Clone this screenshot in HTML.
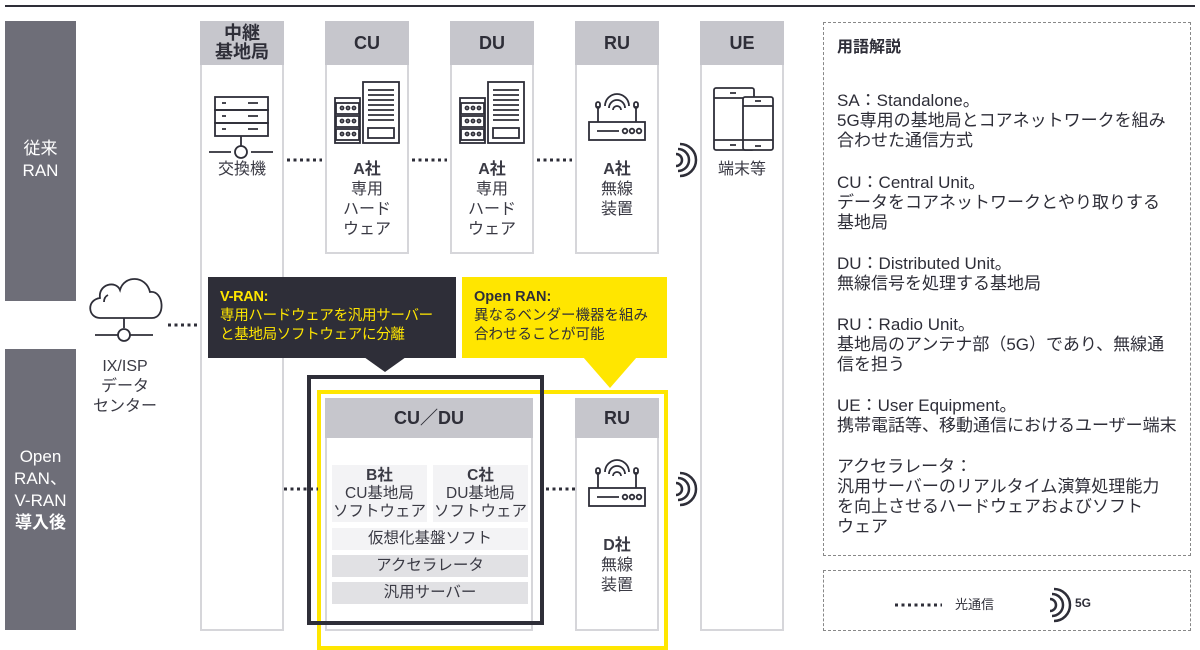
<!DOCTYPE html>
<html><head><meta charset="utf-8"><style>
*{margin:0;padding:0;box-sizing:border-box}
body{width:1200px;height:636px;background:#fff;position:relative;overflow:hidden;font-family:"Liberation Sans","Noto Sans CJK JP",sans-serif;color:#2e2e38}
.a{position:absolute}
.col{position:absolute;border:2px solid #d6d6da;background:#fff}
.hd{position:absolute;left:-2px;right:-2px;top:-2px;background:#c6c6cc;font-weight:bold;font-size:18px;text-align:center;color:#2e2e38}
.side{position:absolute;left:5px;width:71px;background:#6e6e78;color:#fff;font-size:17px;text-align:center;line-height:22px}
.lbl{position:absolute;text-align:center;font-size:16px;line-height:20px;color:#3a3a44}
.gl{position:absolute;left:837px;font-size:17px;line-height:20px;color:#2e2e38;white-space:nowrap}
.sb{position:absolute;text-align:center;font-size:15.5px;line-height:18px;color:#3a3a44}
</style></head><body>
<div class="a" style="left:5px;top:5px;width:1190px;height:2px;background:#2e2e38"></div>
<div class="side" style="top:21px;height:280px;padding-top:117px">従来<br>RAN</div>
<div class="side" style="top:349px;height:281px;padding-top:97px;font-weight:normal">Open<br>RAN、<br>V-RAN<br><b>導入後</b></div>

<div class="col" style="left:200px;top:21px;width:84px;height:610px"><div class="hd" style="height:44px;line-height:19px;padding-top:3px">中継<br>基地局</div></div>
<div class="col" style="left:325px;top:21px;width:84px;height:233px"><div class="hd" style="height:44px;line-height:44px">CU</div></div>
<div class="col" style="left:450px;top:21px;width:84px;height:233px"><div class="hd" style="height:44px;line-height:44px">DU</div></div>
<div class="col" style="left:575px;top:21px;width:84px;height:233px"><div class="hd" style="height:44px;line-height:44px">RU</div></div>
<div class="col" style="left:700px;top:21px;width:84px;height:610px"><div class="hd" style="height:44px;line-height:44px">UE</div></div>

<div class="lbl" style="left:200px;top:160px;width:84px">交換機</div>
<div class="lbl" style="left:325px;top:160px;width:84px"><b>A社</b><br>専用<br>ハード<br>ウェア</div>
<div class="lbl" style="left:450px;top:160px;width:84px"><b>A社</b><br>専用<br>ハード<br>ウェア</div>
<div class="lbl" style="left:575px;top:160px;width:84px"><b>A社</b><br>無線<br>装置</div>
<div class="lbl" style="left:700px;top:160px;width:84px">端末等</div>
<div class="lbl" style="left:85px;top:357px;width:80px">IX/ISP<br>データ<br>センター</div>

<div class="a" style="left:208px;top:277px;width:248px;height:81px;background:#2e2e38;color:#ffe600;font-size:14.5px;line-height:19px;padding:11px 12px;white-space:nowrap;letter-spacing:-0.3px">
<b>V-RAN:</b><br>専用ハードウェアを汎用サーバー<br>と基地局ソフトウェアに分離</div>
<div class="a" style="left:462px;top:277px;width:205px;height:81px;background:#ffe600;color:#2e2e38;font-size:14.5px;line-height:19px;padding:11px 12px;white-space:nowrap">
<b>Open RAN:</b><br>異なるベンダー機器を組み<br>合わせることが可能</div>

<div class="col" style="left:325px;top:398px;width:208px;height:233px"><div class="hd" style="height:40px;line-height:40px">CU／DU</div></div>
<div class="col" style="left:575px;top:398px;width:84px;height:233px"><div class="hd" style="height:40px;line-height:40px">RU</div></div>
<div class="a sb" style="left:332px;top:465px;width:95px;height:57px;background:#f3f3f5;padding-top:2px"><b>B社</b><br>CU基地局<br>ソフトウェア</div>
<div class="a sb" style="left:433px;top:465px;width:95px;height:57px;background:#f3f3f5;padding-top:2px"><b>C社</b><br>DU基地局<br>ソフトウェア</div>
<div class="a sb" style="left:332px;top:528px;width:196px;height:22px;background:#f3f3f5;line-height:22px">仮想化基盤ソフト</div>
<div class="a sb" style="left:332px;top:555px;width:196px;height:22px;background:#e1e1e4;line-height:22px">アクセラレータ</div>
<div class="a sb" style="left:332px;top:582px;width:196px;height:22px;background:#e1e1e4;line-height:22px">汎用サーバー</div>
<div class="lbl" style="left:575px;top:536px;width:84px"><b>D社</b><br>無線<br>装置</div>

<div class="a" style="left:317px;top:390px;width:351px;height:260px;border:4px solid #ffe600"></div>
<div class="a" style="left:307px;top:375px;width:237px;height:250px;border:4px solid #2e2e38"></div>

<div class="a" style="left:823px;top:22px;width:368px;height:534px;border:1.5px dashed #888"></div>
<div class="a" style="left:823px;top:570px;width:368px;height:61px;border:1.5px dashed #888"></div>
<div class="gl" style="top:38px;font-weight:bold;font-size:16px">用語解説</div>
<div class="gl" style="top:91px">SA：Standalone。<br>5G専用の基地局とコアネットワークを組み<br>合わせた通信方式</div>
<div class="gl" style="top:173px">CU：Central Unit。<br>データをコアネットワークとやり取りする<br>基地局</div>
<div class="gl" style="top:254px">DU：Distributed Unit。<br>無線信号を処理する基地局</div>
<div class="gl" style="top:315px">RU：Radio Unit。<br>基地局のアンテナ部（5G）であり、無線通<br>信を担う</div>
<div class="gl" style="top:396px">UE：User Equipment。<br>携帯電話等、移動通信におけるユーザー端末</div>
<div class="gl" style="top:457px">アクセラレータ：<br>汎用サーバーのリアルタイム演算処理能力<br>を向上させるハードウェアおよびソフト<br>ウェア</div>
<div class="a" style="left:955px;top:594px;font-size:13px">光通信</div>
<div class="a" style="left:1075px;top:596px;font-size:12px;font-weight:bold">5G</div>

<svg class="a" style="left:0;top:0" width="1200" height="636" viewBox="0 0 1200 636" fill="none" stroke="#2e2e38" stroke-width="1.8">
<defs>
<g id="w"><path d="M0,-6 A6,6 0 0 1 0,6" stroke-width="2.5"/><path d="M2,-11 A11,11 0 0 1 2,11" stroke-width="2.5"/><path d="M4,-16 A16,16 0 0 1 4,16" stroke-width="2.5"/></g>
<g id="r"><rect x="-28" y="0" width="56" height="18"/><path d="M-19,0 V-16 M19,0 V-16"/><rect x="-21" y="-20" width="4" height="6" rx="2"/><rect x="17" y="-20" width="4" height="6" rx="2"/><path d="M-20,9 H2"/><circle cx="8" cy="9" r="2.3"/><circle cx="15" cy="9" r="2.3"/><circle cx="22" cy="9" r="2.3"/><path d="M-4,-12 A4,4 0 0 1 4,-12 M-8,-14 A8,8 0 0 1 8,-14 M-12,-16 A12,12 0 0 1 12,-16"/></g>
<g id="b"><rect x="-25" y="10" width="25" height="45"/><rect x="-24" y="15" width="23" height="11"/><rect x="-24" y="28" width="23" height="11"/><rect x="-24" y="41" width="23" height="11"/><circle cx="-18" cy="20" r="1.5"/><circle cx="-12" cy="20" r="1.5"/><circle cx="-6" cy="20" r="1.5"/><circle cx="-18" cy="33" r="1.5"/><circle cx="-12" cy="33" r="1.5"/><circle cx="-6" cy="33" r="1.5"/><circle cx="-18" cy="46" r="1.5"/><circle cx="-12" cy="46" r="1.5"/><circle cx="-6" cy="46" r="1.5"/><rect x="3" y="-6" width="36" height="61"/><path d="M8,2H34M8,7H34M8,12H34M8,17H34M8,22H34M8,27H34M8,32H34"/><rect x="8" y="40" width="26" height="10"/></g>
</defs>
<g stroke-dasharray="3 3.5" stroke-width="3">
<path d="M287,160H322M412,160H447M537,160H572M168,325H200M284,489H318M546,489H575M895,605H942"/>
</g>
<rect x="215" y="97" width="53" height="13"/><rect x="215" y="110" width="53" height="13"/><rect x="215" y="123" width="53" height="13"/>
<path d="M222,103h4M248,103h10M222,116h4M248,116h10M222,129h4M248,129h10M241,136v10M209,152h22M251,152h22"/><circle cx="241" cy="152" r="6"/>
<use href="#b" x="360" y="88"/><use href="#b" x="485" y="88"/>
<use href="#r" x="617" y="122"/><use href="#r" x="617" y="488"/>
<rect x="714" y="88" width="40" height="62" rx="2"/><path d="M730,93h6M730,145h6"/>
<rect x="743" y="97" width="30" height="53" rx="2" fill="#fff"/><path d="M755,101h6M755,146h6M743,106h30M743,140h30M714,98h29M714,140h29"/>
<path d="M100,318 C88,318 86,300 100,298 C98,284 116,280 120,290 C124,275 146,275 150,292 C164,290 166,318 152,318 Z"/><path d="M104,302 C104,298 106,296 108,295"/>
<path d="M124,318v10M95,335h23M130,335h23"/><circle cx="124" cy="335" r="6"/>
<path d="M364,357 L385,372 L406,357 Z" fill="#2e2e38" stroke="none"/>
<path d="M583,357 L610,388 L637,357 Z" fill="#ffe600" stroke="none"/>
<use href="#w" x="676" y="160"/><use href="#w" x="676" y="489"/><use href="#w" x="1050" y="605"/>
</svg>
</body></html>
